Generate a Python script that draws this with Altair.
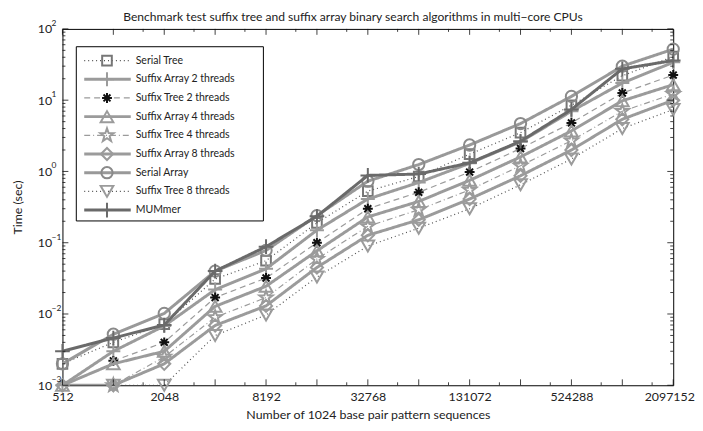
import math
import altair as alt
import pandas as pd

# ---------------- data ----------------
n_values = [512, 1024, 2048, 4096, 8192, 16384, 32768, 65536, 131072,
            262144, 524288, 1048576, 2097152]

series_names = ["Serial Tree", "Suffix Array 2 threads", "Suffix Tree 2 threads",
                "Suffix Array 4 threads", "Suffix Tree 4 threads",
                "Suffix Array 8 threads", "Serial Array", "Suffix Tree 8 threads",
                "MUMmer"]

serial_tree = [0.002, 0.004, 0.0072, 0.031, 0.056, 0.19, 0.53, 0.85, 1.75, 3.5, 8.5, 22, 41]
suffix_array_2 = [0.001, 0.003, 0.0068, 0.022, 0.043, 0.15, 0.41, 0.70, 1.3, 2.6, 7.0, 17.4, 34]
suffix_tree_2 = [None, 0.0022, 0.004, 0.017, 0.032, 0.10, 0.30, 0.51, 0.98, 2.1, 4.8, 12.6, 22.5]
suffix_array_4 = [0.001, 0.002, 0.003, 0.0128, 0.0245, 0.077, 0.23, 0.38, 0.75, 1.6, 3.7, 9.8, 16.5]
suffix_tree_4 = [None, 0.001, 0.0025, 0.009, 0.017, 0.059, 0.17, 0.29, 0.55, 1.2, 2.7, 7.0, 12.2]
suffix_array_8 = [0.001, 0.001, 0.002, 0.0069, 0.013, 0.045, 0.127, 0.21, 0.41, 0.87, 2.0, 5.4, 10]
serial_array = [0.002, 0.0052, 0.0102, 0.04, 0.078, 0.24, 0.73, 1.25, 2.35, 4.7, 11.3, 30, 52]
suffix_tree_8 = [None, 0.001, 0.001, 0.005, 0.0097, 0.033, 0.09, 0.16, 0.30, 0.65, 1.5, 4.0, 7.4]
mummer = [0.003, 0.0046, 0.007, 0.04, 0.088, 0.235, 0.88, 0.92, 1.32, 2.65, 7.4, 27.5, 36]

all_series = [serial_tree, suffix_array_2, suffix_tree_2, suffix_array_4, suffix_tree_4,
              suffix_array_8, serial_array, suffix_tree_8, mummer]

x_label_values = [512, 2048, 8192, 32768, 131072, 524288, 2097152]
y_label_values = [0.001, 0.01, 0.1, 1, 10, 100]
y_exponents = ["\u22123", "\u22122", "\u22121", "0", "1", "2"]

title_text = "Benchmark test suffix tree and suffix array binary search algorithms in multi\u2212core CPUs"
x_title = "Number of 1024 base pair pattern sequences"
y_title = "Time (sec)"

# ---------------- styles ----------------
FONT = "Lato"
W, H = 617, 360
PAD_L, PAD_T = 55, 19
PAD_R = 694 - PAD_L - W
PAD_B = 415 - PAD_T - H

line_colors = ["#505050", "#9b9b9b", "#9b9b9b", "#9b9b9b", "#9b9b9b",
               "#9b9b9b", "#999999", "#505050", "#6a6a6a"]
marker_colors = ["#777777", "#9b9b9b", "#111111", "#9b9b9b", "#9b9b9b",
                 "#9b9b9b", "#8a8a8a", "#9b9b9b", "#6a6a6a"]
dashes = [[1, 3], [1, 0], [6, 4], [1, 0], [6, 3, 1, 3], [1, 0], [1, 0], [1, 3], [1, 0]]
widths = [1.2, 3, 1.2, 3, 1.2, 3, 3, 1.2, 3]

plus_path = "M-1,0H1M0,-1V1"
aster_path = "M-1,0H1M0,-1V1M-0.7,-0.7L0.7,0.7M-0.7,0.7L0.7,-0.7"
star_pts = []
for i in range(10):
    a = math.radians(-90 + 36 * i)
    r = 1.0 if i % 2 == 0 else 0.4
    star_pts.append(f"{r*math.cos(a):.3f},{r*math.sin(a):.3f}")
star_path = "M" + "L".join(star_pts) + "Z"
shapes = ["square", plus_path, aster_path, "triangle-up", star_path,
          "diamond", "circle", "triangle-down", plus_path]
sizes = [95, 200, 100, 165, 200, 150, 130, 165, 220]

# ---------------- tables ----------------
rows = []
for name, vals in zip(series_names, all_series):
    for n, t in zip(n_values, vals):
        if t is not None:
            rows.append({"n": n, "t": t, "series": name})
df = pd.DataFrame(rows)

xscale = alt.Scale(type="log", base=2, domain=[512, 2097152], nice=False)
yscale = alt.Scale(type="log", domain=[0.001, 100], nice=False)

xaxis = alt.Axis(values=x_label_values, format="d", ticks=False, tickSize=0, domain=False,
                 grid=False, labelFont=FONT, labelFontSize=12.5, labelColor="#222",
                 labelPadding=5, title=x_title, titleFont=FONT, titleFontSize=12.5,
                 titleFontWeight="normal", titleColor="#222", titlePadding=6,
                 labelFlush=False,
                 labelOffset={"condition": {"test": "datum.value > 2000000", "value": -4},
                              "value": 0})
yaxis = alt.Axis(values=y_label_values, labelExpr="'10'", ticks=False, tickSize=0,
                 domain=False, grid=False, labelFont=FONT, labelFontSize=12.5,
                 labelColor="#222", labelPadding=11, title=y_title, titleFont=FONT,
                 titleFontSize=12.5, titleFontWeight="normal", titleColor="#222",
                 minExtent=38, maxExtent=38, titlePadding=0)

color_s = alt.Color("series:N", scale=alt.Scale(domain=series_names, range=line_colors), legend=None)
dash_s = alt.StrokeDash("series:N", scale=alt.Scale(domain=series_names, range=dashes), legend=None)
width_s = alt.StrokeWidth("series:N", scale=alt.Scale(type="ordinal", domain=series_names, range=widths), legend=None)
shape_s = alt.Shape("series:N", scale=alt.Scale(domain=series_names, range=shapes), legend=None)
stroke_s = alt.Stroke("series:N", scale=alt.Scale(domain=series_names, range=marker_colors), legend=None)
size_s = alt.Size("series:N", scale=alt.Scale(type="ordinal", domain=series_names, range=sizes), legend=None)

X = alt.X("n:Q", scale=xscale, axis=xaxis)
Y = alt.Y("t:Q", scale=yscale, axis=yaxis)

base = alt.Chart(df)
main_layers = []
for name in series_names:
    sub = base.transform_filter(alt.datum.series == name)
    main_layers.append(sub.mark_line(clip=True).encode(x=X, y=Y, color=color_s,
                                                     strokeDash=dash_s, strokeWidth=width_s))
    main_layers.append(sub.mark_point(filled=False, strokeWidth=2, opacity=1).encode(
        x=X, y=Y, shape=shape_s, stroke=stroke_s, size=size_s))

# inward tick marks on all four sides
x_major = n_values
x_minor = [3 * v for v in n_values[:-1]]
y_major = y_label_values
y_minor = [m * 10 ** k for k in range(-3, 2) for m in range(2, 10)]

def xticks(vals, length, top):
    d = pd.DataFrame({"n": vals})
    c = alt.Chart(d).mark_rule(color="#111", strokeWidth=0.8)
    if top:
        return c.encode(x=X, y=alt.value(0), y2=alt.value(length))
    return c.encode(x=X, y=alt.value(H), y2=alt.value(H - length))

def yticks(vals, length, right):
    d = pd.DataFrame({"t": vals})
    c = alt.Chart(d).mark_rule(color="#111", strokeWidth=0.8)
    if right:
        return c.encode(y=Y, x=alt.value(W), x2=alt.value(W - length))
    return c.encode(y=Y, x=alt.value(0), x2=alt.value(length))

tick_layers = [xticks(x_major, 6, False), xticks(x_minor, 3, False),
               xticks(x_major, 6, True), xticks(x_minor, 3, True),
               yticks(y_major, 6, False), yticks(y_minor, 3, False),
               yticks(y_major, 6, True), yticks(y_minor, 3, True)]

exp_df = pd.DataFrame({"t": y_label_values, "e": y_exponents})
exp_layer = alt.Chart(exp_df).mark_text(align="left", baseline="middle", dy=-6,
                                        font=FONT, fontSize=8.5, color="#222").encode(
    y=Y, x=alt.value(-11), text="e:N")

main = alt.layer(*main_layers, *tick_layers, exp_layer)

# ---------------- legend ----------------
leg_df = pd.DataFrame({"series": series_names})
leg_y = alt.Y("series:N", scale=alt.Scale(type="point", domain=series_names,
                                          range=[32, 183], padding=0), axis=None)
leg_box = alt.Chart(pd.DataFrame({"a": [0]})).mark_rect(
    fill="white", stroke="black", strokeWidth=1).encode(
    x=alt.value(14), x2=alt.value(203), y=alt.value(18), y2=alt.value(194))
leg_base = alt.Chart(leg_df)
leg_lines = leg_base.mark_rule().encode(x=alt.value(22), x2=alt.value(69), y=leg_y,
                                        color=color_s, strokeDash=dash_s, strokeWidth=width_s)
leg_pts = leg_base.mark_point(filled=False, strokeWidth=2, opacity=1).encode(
    x=alt.value(45), y=leg_y, shape=shape_s, stroke=stroke_s, size=size_s)
leg_text = leg_base.mark_text(align="left", baseline="middle", font=FONT, fontSize=10.6,
                              color="#222").encode(x=alt.value(74), y=leg_y, text="series:N")
legend = alt.layer(leg_box, leg_lines, leg_pts, leg_text)

chart = alt.layer(main, legend).resolve_scale(y="independent").properties(
    width=W, height=H,
    autosize=alt.AutoSizeParams(type="none"),
    padding={"left": PAD_L, "top": PAD_T, "right": PAD_R, "bottom": PAD_B},
    title=alt.TitleParams(title_text, font=FONT, fontSize=12.2, fontWeight="normal",
                          color="#222", offset=-4, frame="group", dx=-15),
).configure_view(stroke="black", strokeWidth=1)

chart.save("out.html", embed_options={"renderer": "svg", "actions": False})
